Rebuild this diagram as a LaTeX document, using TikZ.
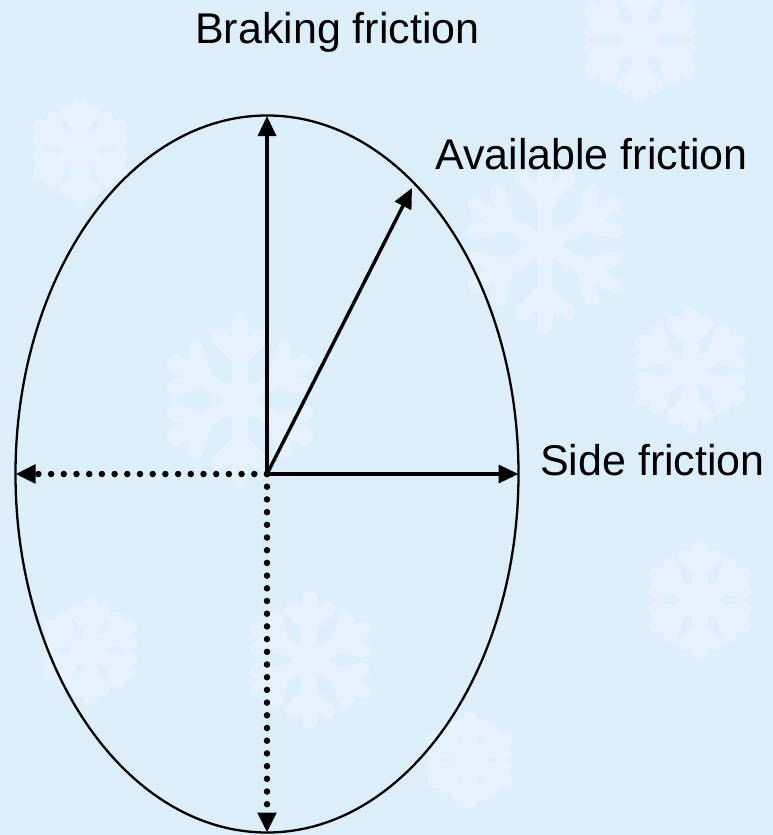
\documentclass[tikz,border=0pt]{standalone}
\usepackage{fontspec}
\setmainfont{Liberation Sans}
\usetikzlibrary{arrows.meta}
\definecolor{bgblue}{RGB}{220,238,250}
\newcommand\snowflk[3]{%
  \begin{scope}[shift={(#1,#2)}, scale=#3, transparency group, opacity=0.28]
    \foreach \a in {0,60,...,300} {
      \draw[flake, rotate=\a] (0,0) -- (0,-50);
      \draw[flake, rotate=\a] (0,-28) -- ++(14,-14) (0,-28) -- ++(-14,-14);
    }
  \end{scope}}
\begin{document}
\begin{tikzpicture}[x=1pt,y=-1pt,
  lbl/.style={font=\fontsize{43}{50}\selectfont, inner sep=0pt, anchor=base west},
  vec/.style={line width=3.4pt, -{Triangle[length=20pt,width=18pt]}},
  dotvec/.style={line width=6.5pt, line cap=round, dash pattern=on 0pt off 12.7pt, -{Triangle[length=20pt,width=18pt]}},
  flake/.style={white, line width=16pt, line cap=round}
]
\useasboundingbox (0,0) rectangle (773,835);
\fill[bgblue] (0,0) rectangle (773,835);
% faint snowflakes
\snowflk{545}{245}{1.6}
\snowflk{240}{400}{1.5}
\snowflk{690}{370}{1.1}
\snowflk{700}{600}{1.0}
\snowflk{310}{660}{1.2}
\snowflk{640}{40}{1.1}
\snowflk{80}{150}{0.9}
\snowflk{470}{760}{0.8}
\snowflk{90}{650}{0.9}

\coordinate (o) at (267,474);
\coordinate (top) at (267,116);
\coordinate (right) at (518.5,474);
\coordinate (left) at (15.5,474);
\coordinate (bot) at (267,832.5);
\coordinate (avail) at (412,188);

\draw[line width=2.3pt] (o) ellipse [x radius=251.5, y radius=358.5];

\draw[vec] (o) -- (top);
\draw[vec] (o) -- (right);
\draw[vec] (o) -- (avail);
\draw[dotvec] (o) -- (left);
\draw[dotvec] (o) -- (bot);

\node[lbl] (brk) at (195,43) {Braking friction};
\node[lbl] (avl) at (435,169) {Available friction};
\node[lbl] (sid) at (540,475) {Side friction};
\end{tikzpicture}
\end{document}
